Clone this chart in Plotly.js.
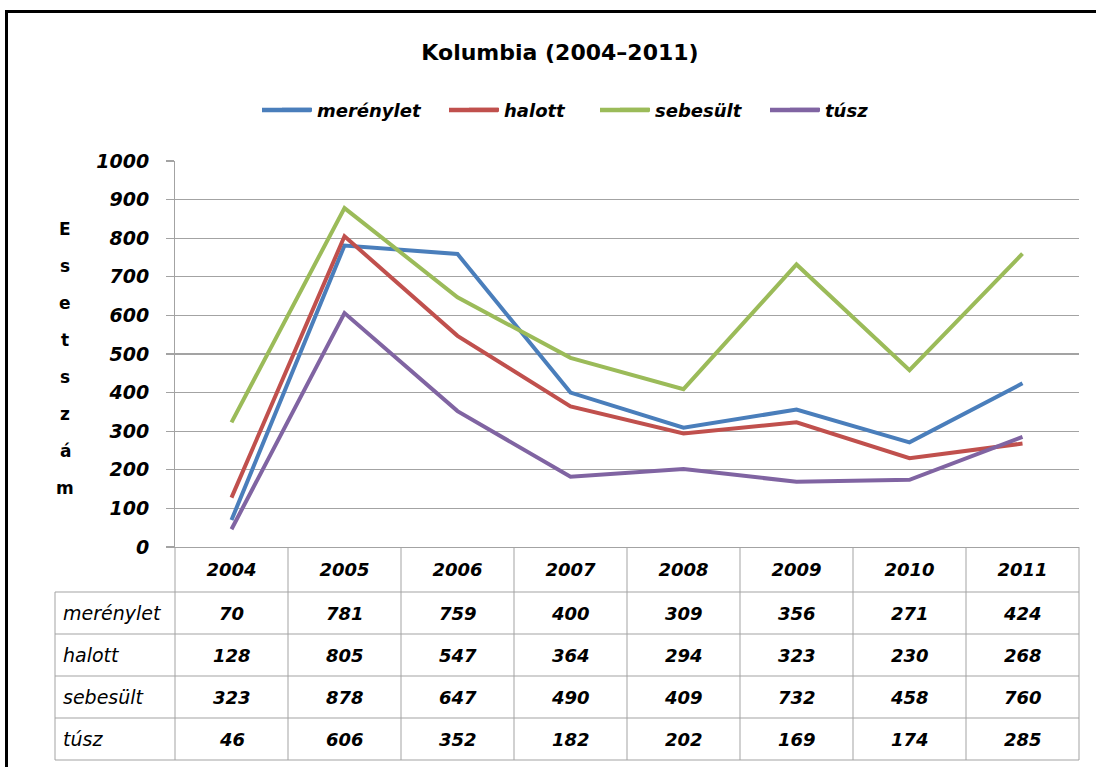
<!DOCTYPE html>
<html>
<head>
<meta charset="utf-8">
<script src="https://cdn.plot.ly/plotly-3.0.1.min.js"></script>
<style>html,body{margin:0;padding:0;background:#fff;} #chart{width:1096px;height:767px;}</style>
</head>
<body>
<div id="chart"></div>
<script>
// ---- data ----
const years = ['2004', '2005', '2006', '2007', '2008', '2009', '2010', '2011'];
const merenylet = [70, 781, 759, 400, 309, 356, 271, 424];
const halott = [128, 805, 547, 364, 294, 323, 230, 268];
const sebesult = [323, 878, 647, 490, 409, 732, 458, 760];
const tusz = [46, 606, 352, 182, 202, 169, 174, 285];
const seriesNames = ['merénylet', 'halott', 'sebesült', 'túsz'];
const yTickVals = [0, 100, 200, 300, 400, 500, 600, 700, 800, 900, 1000];
const yTitleLetters = ['E', 's', 'e', 't', 's', 'z', 'á', 'm'];
const chartTitle = 'Kolumbia (2004–2011)';

// ---- layout geometry (pixels) ----
const W = 1096, H = 767;
const mL = 175, mR = 17, mT = 161, mB = 220;
const PW = W - mL - mR, PH = H - mT - mB;
const px2x = p => (p - mL) / PW;
const py2y = p => (H - mB - p) / PH;

const FONT = '"DejaVu Sans", Verdana, sans-serif';
const GRID = '#a3a3a3';
const colors = ['#4a7ebb', '#c0504d', '#9bbb59', '#8064a2'];
const seriesValues = [merenylet, halott, sebesult, tusz];
const legendIds = ['legend', 'legend2', 'legend3', 'legend4'];
const legendTextStart = [317, 504, 655, 825];
const legendY = 110;

const traces = seriesValues.map((vals, i) => ({
  type: 'scatter', mode: 'lines', x: years, y: vals, name: seriesNames[i],
  legend: legendIds[i],
  line: {color: colors[i], width: 4}, cliponaxis: false
}));

// table geometry
const headerBottom = 592, rowH = 42, tableLeft = 55;
const rowTops = seriesNames.map((_, r) => headerBottom + r * rowH);
const tableBottom = headerBottom + seriesNames.length * rowH;

const shapes = [];
const lineStyle = {color: GRID, width: 1};
for (let i = 0; i <= years.length; i++) {
  shapes.push({type: 'line', xref: 'paper', yref: 'paper',
    x0: i / years.length, x1: i / years.length, y0: 0, y1: py2y(tableBottom), line: lineStyle});
}
shapes.push({type: 'line', xref: 'paper', yref: 'paper',
  x0: px2x(tableLeft), x1: px2x(tableLeft), y0: py2y(headerBottom), y1: py2y(tableBottom), line: lineStyle});
for (let r = 0; r <= seriesNames.length; r++) {
  const yy = py2y(headerBottom + r * rowH);
  shapes.push({type: 'line', xref: 'paper', yref: 'paper',
    x0: px2x(tableLeft), x1: 1, y0: yy, y1: yy, line: lineStyle});
}
// longer legend swatches (Excel style)
colors.forEach((c, i) => {
  shapes.push({type: 'line', xref: 'paper', yref: 'paper', layer: 'above',
    x0: px2x(legendTextStart[i] - 55), x1: px2x(legendTextStart[i] - 6),
    y0: py2y(legendY), y1: py2y(legendY), line: {color: c, width: 4.5}});
});
// outer black frame (left + top)
shapes.push({type: 'path', xref: 'paper', yref: 'paper', layer: 'above',
  path: `M ${px2x(6.5)} ${py2y(H + 5)} L ${px2x(6.5)} ${py2y(11.5)} L ${px2x(W + 5)} ${py2y(11.5)}`,
  line: {color: '#000', width: 3}});

const annotations = [];
seriesValues.forEach((vals, r) => {
  const yc = py2y(rowTops[r] + rowH / 2);
  annotations.push({xref: 'paper', yref: 'paper', x: px2x(61), y: yc, xanchor: 'left', yanchor: 'middle',
    text: seriesNames[r], showarrow: false,
    font: {family: FONT, size: 19, style: 'italic', weight: 'normal', color: '#000'}});
  vals.forEach((v, i) => {
    annotations.push({xref: 'x', yref: 'paper', x: i, y: yc, xanchor: 'center', yanchor: 'middle',
      text: String(v), showarrow: false,
      font: {family: FONT, size: 18, style: 'italic', weight: 'bold', color: '#000'}});
  });
});
yTitleLetters.forEach((ch, i) => {
  annotations.push({xref: 'paper', yref: 'paper', x: px2x(65), y: py2y(229 + i * 37),
    xanchor: 'center', yanchor: 'middle', text: ch, showarrow: false,
    font: {family: FONT, size: 17, weight: 'bold', color: '#000'}});
});

const layout = {
  width: W, height: H,
  margin: {l: mL, r: mR, t: mT, b: mB},
  paper_bgcolor: '#fff', plot_bgcolor: '#fff',
  showlegend: true,
  title: {text: chartTitle, x: 560 / W, xref: 'container', xanchor: 'center',
    y: 1 - 52 / H, yref: 'container', yanchor: 'middle',
    font: {family: FONT, size: 22, weight: 'bold', color: '#000'}},
  xaxis: {type: 'category', range: [-0.5, years.length - 0.5], automargin: false,
    showgrid: false, zeroline: false, showline: true, linecolor: GRID, linewidth: 1,
    ticks: '', ticklabelstandoff: 6, fixedrange: true,
    tickfont: {family: FONT, size: 18, style: 'italic', weight: 'bold', color: '#000'}},
  yaxis: {range: [0, 1000], tickmode: 'array', tickvals: yTickVals, automargin: false,
    showgrid: true, gridcolor: GRID, gridwidth: 1.3, zeroline: false,
    showline: true, linecolor: GRID, linewidth: 1,
    ticks: 'outside', ticklen: 8, tickcolor: GRID, tickwidth: 1.3, ticklabelstandoff: 13,
    tickfont: {family: FONT, size: 19, style: 'italic', weight: 'bold', color: '#000'}},
  shapes: shapes,
  annotations: annotations
};
legendIds.forEach((id, i) => {
  layout[id] = {orientation: 'h', xref: 'container', yref: 'container',
    x: (legendTextStart[i] - 40) / W, xanchor: 'left', y: 1 - legendY / H, yanchor: 'middle',
    bgcolor: 'rgba(0,0,0,0)',
    font: {family: FONT, size: 18, style: 'italic', weight: 'bold', color: '#000'},
    itemwidth: 30};
});

Plotly.newPlot('chart', traces, layout, {displayModeBar: false, staticPlot: true});
</script>
</body>
</html>
